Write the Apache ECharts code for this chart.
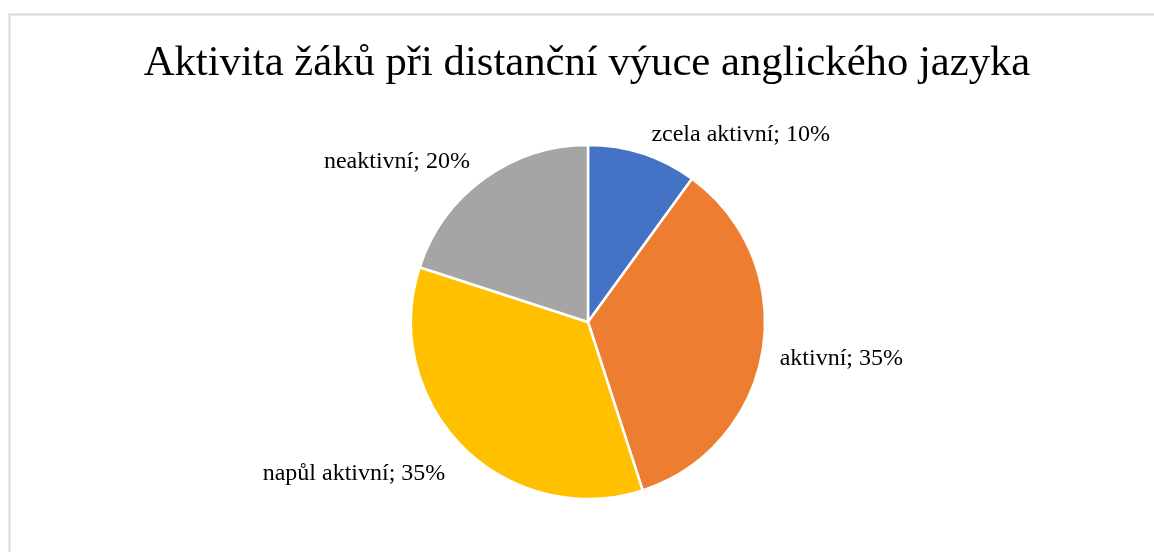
<!DOCTYPE html>
<html>
<head>
<meta charset="utf-8">
<script src="https://cdn.jsdelivr.net/npm/echarts@6/dist/echarts.min.js"></script>
<style>
  html, body { margin: 0; padding: 0; background: #fff; }
  #chart { width: 1154px; height: 552px; }
</style>
</head>
<body>
<div id="chart"></div>
<script>
// data
var categories = ['zcela aktivní', 'aktivní', 'napůl aktivní', 'neaktivní'];
var values = [10, 35, 35, 20];
var colors = ['#4472C4', '#ED7D31', '#FFC000', '#A5A5A5'];
// posun popisků (jen vzhled)
var labelShift = [[0, -8], [0, 7], [-4, 18], [-2, -7]];

var dom = document.getElementById('chart');
var myChart = echarts.init(dom);

var seriesData = categories.map(function (name, i) {
    return { name: name, value: values[i], itemStyle: { color: colors[i] } };
});

var option = {
    backgroundColor: '#fff',
    animation: false,
    title: {
        text: 'Aktivita žáků při distanční výuce anglického jazyka',
        left: 582,
        textAlign: 'center',
        top: 37,
        textStyle: {
            fontFamily: 'Liberation Serif',
            fontWeight: 'normal',
            fontSize: 42.7,
            color: '#000'
        }
    },
    graphic: [{
        type: 'rect',
        shape: { x: 9.5, y: 14.5, width: 1200, height: 600 },
        style: { fill: 'none', stroke: '#d9d9d9', lineWidth: 2 },
        silent: true
    }],
    series: [{
        type: 'pie',
        center: [588, 322],
        radius: 177,
        startAngle: 90,
        clockwise: true,
        itemStyle: { borderColor: '#fff', borderWidth: 2.5 },
        label: {
            show: true,
            position: 'outside',
            formatter: '{b}; {d}%',
            fontFamily: 'Liberation Serif',
            fontSize: 24,
            color: '#000'
        },
        labelLine: { show: false, length: 12, length2: 0 },
        labelLayout: function (params) {
            var s = labelShift[params.dataIndex];
            return { dx: s[0], dy: s[1] };
        },
        data: seriesData
    }]
};

if (option && typeof option === "object") {
    myChart.setOption(option, true);
}
</script>
</body>
</html>
